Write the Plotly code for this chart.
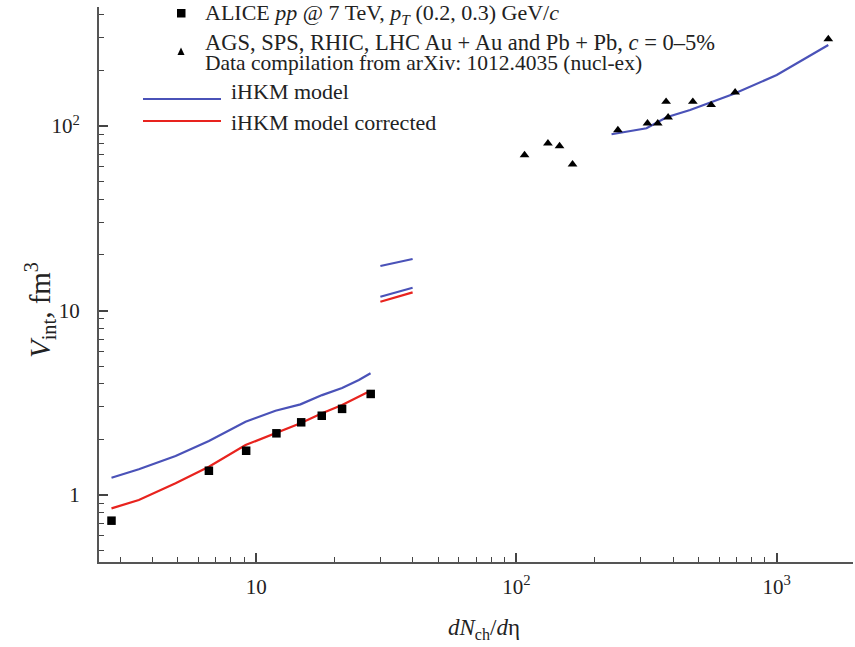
import plotly.graph_objects as go

# ---- data ----
alice_x = [2.78, 6.58, 9.15, 11.96, 14.89, 17.86, 21.38, 27.54]
alice_y = [0.726, 1.354, 1.738, 2.16, 2.478, 2.69, 2.93, 3.53]

aa_x = [107.4, 132.1, 146.4, 164.2, 245.3, 318.7, 349.0, 382.5, 375.7, 476.0, 559.8, 692.0, 1578.0]
aa_y = [69.6, 80.6, 77.9, 62.0, 95.1, 103.4, 103.4, 111.5, 135.4, 135.4, 130.1, 152.3, 296.0]

ihkm_low_x = [2.78, 3.54, 4.90, 6.58, 9.10, 11.86, 14.79, 17.91, 21.38, 24.8, 27.5]
ihkm_low_y = [1.241, 1.378, 1.627, 1.962, 2.495, 2.864, 3.10, 3.48, 3.80, 4.20, 4.57]

ihkm_mid1_x = [30.0, 39.9]
ihkm_mid1_y = [17.42, 19.02]
ihkm_mid2_x = [30.0, 39.9]
ihkm_mid2_y = [11.88, 13.29]

ihkm_high_x = [231.9, 316.0, 377.3, 464.6, 681.4, 1000.0, 1578.0]
ihkm_high_y = [90.2, 97.2, 111.5, 122.1, 149.0, 189.0, 274.8]

corr_low_x = [2.78, 3.54, 4.90, 6.58, 9.10, 11.86, 14.79, 17.91, 21.38, 27.5]
corr_low_y = [0.847, 0.939, 1.157, 1.423, 1.866, 2.16, 2.447, 2.772, 3.075, 3.675]
corr_mid_x = [30.0, 39.9]
corr_mid_y = [11.16, 12.55]

x_tickvals = [10, 100, 1000]
x_ticktext = ["10", "10<sup>2</sup>", "10<sup>3</sup>"]
y_tickvals = [1, 10, 100]
y_ticktext = ["1", "10", "10<sup>2</sup>"]

legend_texts = [
    "ALICE <i>pp</i> @ 7 TeV, <i>p</i><sub><i>T</i></sub> (0.2, 0.3) GeV/<i>c</i>",
    "AGS, SPS, RHIC, LHC Au + Au and Pb + Pb, <i>c</i> = 0–5%",
    "Data compilation from arXiv: 1012.4035 (nucl-ex)",
    "iHKM model",
    "iHKM model corrected",
]
x_title = "<i>dN</i><sub>ch</sub>/<i>d</i>η"
y_title = "<i>V</i><sub>int</sub>, fm<sup>3</sup>"

BLUE = "#4a52b8"
RED = "#e8231e"
FONT = "Liberation Serif"
TXT = "#222"

fig = go.Figure()

def line(x, y, color):
    fig.add_trace(go.Scatter(x=x, y=y, mode="lines", line=dict(color=color, width=2.2),
                             showlegend=False, hoverinfo="skip"))

line(ihkm_low_x, ihkm_low_y, BLUE)
line(corr_low_x, corr_low_y, RED)
line(ihkm_mid1_x, ihkm_mid1_y, BLUE)
line(ihkm_mid2_x, ihkm_mid2_y, BLUE)
line(corr_mid_x, corr_mid_y, RED)
line(ihkm_high_x, ihkm_high_y, BLUE)

fig.add_trace(go.Scatter(x=alice_x, y=alice_y, mode="markers",
                         marker=dict(symbol="square", size=8.5, color="black"), showlegend=False))
fig.add_trace(go.Scatter(x=aa_x, y=aa_y, mode="markers",
                         marker=dict(symbol="triangle-up", size=8.5, color="black"), showlegend=False))

# body margin is removed by post_script, so screen px == figure px
FW, FH = 855, 647
SL, SR, ST, SB = 99, 853, 7, 562
L, R, T, B = SL, SR, ST, SB
W, H = R - L, B - T
def px(sx):
    return (sx - L) / W
def py(sy):
    return (B - sy) / H

shapes = []
annotations = []
# legend markers
shapes.append(dict(type="rect", xref="paper", yref="paper",
                   x0=px(177), x1=px(185.5), y0=py(17.5), y1=py(9),
                   fillcolor="black", line=dict(width=0)))
shapes.append(dict(type="path", xref="paper", yref="paper",
                   path=f"M {px(177.5)} {py(55)} L {px(184.5)} {py(55)} L {px(181)} {py(47.5)} Z",
                   fillcolor="black", line=dict(width=0)))
shapes.append(dict(type="line", xref="paper", yref="paper",
                   x0=px(143), x1=px(221), y0=py(99), y1=py(99), line=dict(color=BLUE, width=2.2)))
shapes.append(dict(type="line", xref="paper", yref="paper",
                   x0=px(143), x1=px(221), y0=py(121), y1=py(121), line=dict(color=RED, width=2.2)))

text_pos = [(203, 14, 22), (203, 42, 22.5), (203, 63, 21.5), (229, 91, 22), (229, 122, 22)]
for t, (tx, ty, fs) in zip(legend_texts, text_pos):
    annotations.append(dict(text=t, xref="paper", yref="paper", x=px(tx), y=py(ty),
                            xanchor="left", yanchor="middle", showarrow=False,
                            font=dict(family=FONT, size=fs, color=TXT)))

# axis titles
annotations.append(dict(text=x_title, xref="paper", yref="paper", x=px(484), y=py(629),
                        xanchor="center", yanchor="middle", showarrow=False,
                        font=dict(family=FONT, size=23, color=TXT)))
annotations.append(dict(text=y_title, xref="paper", yref="paper", x=px(40), y=py(310),
                        xanchor="center", yanchor="middle", showarrow=False, textangle=-90,
                        font=dict(family=FONT, size=29, color=TXT)))

fig.update_layout(
    width=FW, height=FH,
    margin=dict(l=L, r=FW - R, t=T, b=FH - B, autoexpand=False),
    plot_bgcolor="white", paper_bgcolor="white",
    font=dict(family=FONT, size=20, color=TXT),
    shapes=shapes, annotations=annotations,
    showlegend=False,
)

fig.update_xaxes(
    type="log", range=[0.396, 3.293], automargin=False,
    tickvals=x_tickvals, ticktext=x_ticktext,
    ticks="inside", ticklen=9, tickwidth=1.5, tickcolor="#444",
    minor=dict(ticks="inside", ticklen=5, tickwidth=1.2, tickcolor="#444", dtick="D1", showgrid=False),
    showline=True, linecolor="#555", linewidth=2, showgrid=False, zeroline=False,
    ticklabelstandoff=5,
    tickfont=dict(family=FONT, size=21, color=TXT),
)
fig.update_yaxes(
    type="log", range=[-0.363, 2.645], automargin=False,
    tickvals=y_tickvals, ticktext=y_ticktext,
    ticks="inside", ticklen=9, tickwidth=1.5, tickcolor="#444",
    minor=dict(ticks="inside", ticklen=5, tickwidth=1.2, tickcolor="#444", dtick="D1", showgrid=False),
    showline=True, linecolor="#555", linewidth=2, showgrid=False, zeroline=False,
    ticklabelstandoff=13,
    tickfont=dict(family=FONT, size=21, color=TXT),
)

fig.write_html("out.html",
               config={"displayModeBar": False},
               post_script="document.body.style.margin='0';document.body.style.padding='0';")
